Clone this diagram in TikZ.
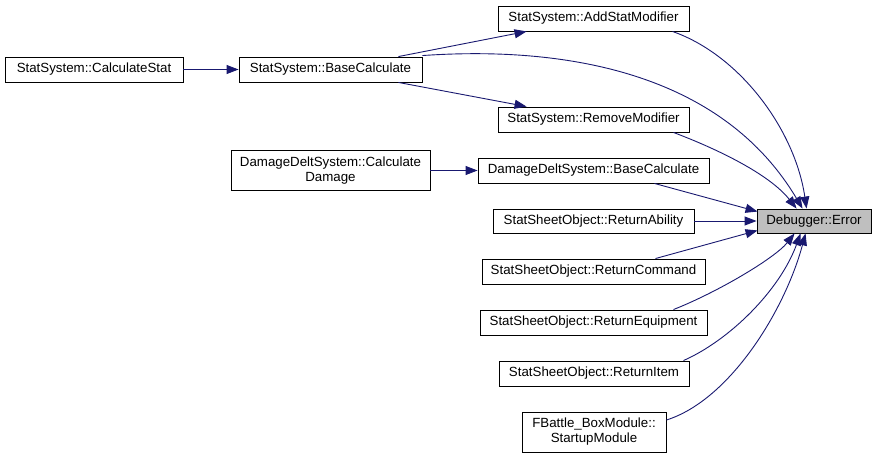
\documentclass[tikz,border=0pt]{standalone}
\usepackage{fontspec}
\setmainfont{Liberation Sans}
\usetikzlibrary{arrows.meta,calc}
\definecolor{edgeblue}{HTML}{191970}
\definecolor{errgray}{HTML}{BFBFBF}
\tikzset{
  fbox/.style={draw=black, line width=0.9pt, fill=white, inner sep=0pt, minimum height=25pt,
    font=\fontsize{13.3}{15}\selectfont, align=center},
  edge/.style={draw=edgeblue, line width=0.9pt, -{Triangle[length=12pt,width=9pt]}},
}
\begin{document}
\begin{tikzpicture}[x=1pt,y=-1pt]
\useasboundingbox (0,0) rectangle (876,458);
\node[fbox, minimum width=178pt] (cs) at (94,69.5) {StatSystem::CalculateStat};
\node[fbox, minimum width=183pt] (bc) at (330.5,69.5) {StatSystem::BaseCalculate};
\node[fbox, minimum width=191pt] (add) at (593.5,18.5) {StatSystem::AddStatModifier};
\node[fbox, minimum width=191pt] (rem) at (593.5,119.5) {StatSystem::RemoveModifier};
\node[fbox, minimum width=231pt] (ddb) at (593.5,170.5) {DamageDeltSystem::BaseCalculate};
\node[fbox, minimum width=199pt, minimum height=40pt] (ddc) at (330.5,170.5) {DamageDeltSystem::Calculate\\Damage};
\node[fbox, minimum width=201pt, minimum height=24pt] (ra) at (593.5,221) {StatSheetObject::ReturnAbility};
\node[fbox, minimum width=114pt, minimum height=24pt, fill=errgray] (err) at (814,221) {Debugger::Error};
\node[fbox, minimum width=223pt] (rc) at (593.5,271.5) {StatSheetObject::ReturnCommand};
\node[fbox, minimum width=227pt] (re) at (593.5,322.5) {StatSheetObject::ReturnEquipment};
\node[fbox, minimum width=190pt] (ri) at (594,373.5) {StatSheetObject::ReturnItem};
\node[fbox, minimum width=144pt, minimum height=40pt] (fb) at (594,432) {FBattle\_BoxModule::\\StartupModule};

\draw[edge] (cs.east) -- (bc.west);
\draw[edge] ($(bc.north east)+(-24,0)$) -- ($(add.south west)+(29,0)$);
\draw[edge] ($(bc.south east)+(-24,0)$) -- ($(rem.north west)+(29,0)$);
\draw[edge] ($(bc.north east)+(0,-1)$) .. controls (560,46) and (720,70) .. ($(err.north west)+(46,0)$);
\draw[edge] ($(add.south east)+(-17,0)$) .. controls (740,55) and (795,130) .. ($(err.north west)+(50,0)$);
\draw[edge] ($(rem.south east)+(-16,0)$) .. controls (720,150) and (770,175) .. ($(err.north west)+(40,0)$);
\draw[edge] (ddc.east) -- (ddb.west);
\draw[edge] ($(ddb.south east)+(-55,0)$) -- ($(err.north west)+(1,3)$);
\draw[edge] (ra.east) -- (err.west);
\draw[edge] ($(rc.north east)+(-50,0)$) -- ($(err.south west)+(1,-3)$);
\draw[edge] ($(re.north east)+(-34,0)$) .. controls (718,292) and (775,258) .. ($(err.south west)+(38,0)$);
\draw[edge] ($(ri.north east)+(-6,0)$) .. controls (730,340) and (780,290) .. ($(err.south west)+(44,0)$);
\draw[edge] ($(fb.east)+(0,-12)$) .. controls (730,400) and (785,310) .. ($(err.south west)+(49,0)$);
\end{tikzpicture}
\end{document}
